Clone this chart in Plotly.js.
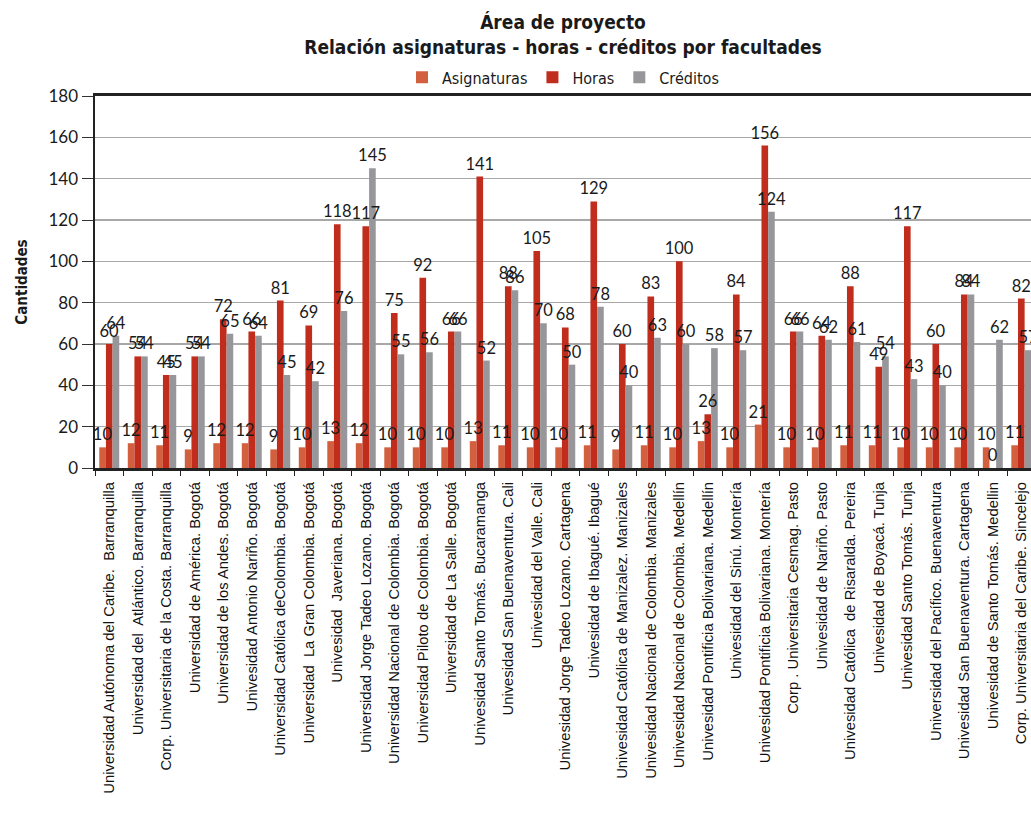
<!DOCTYPE html>
<html>
<head>
<meta charset="utf-8">
<script src="https://cdn.plot.ly/plotly-3.0.1.min.js"></script>
<style>html,body{margin:0;padding:0;background:#fff;}</style>
</head>
<body>
<div id="chart" style="width:1031px;height:820px;"></div>
<script>
const categories = [
  "Universidad Autónoma del Caribe.  Barranquilla",
  "Universidad del  Atlántico. Barranquilla",
  "Corp. Universitaria de la Costa. Barranquilla",
  "Universidad de América. Bogotá",
  "Universidad de los Andes. Bogotá",
  "Univesidad Antonio Nariño. Bogotá",
  "Universidad Católica deColombia. Bogotá",
  "Universidad  La Gran Colombia. Bogotá",
  "Univesidad  Javeriana. Bogotá",
  "Universidad Jorge Tadeo Lozano. Bogotá",
  "Universidad Nacional de Colombia. Bogotá",
  "Universidad Piloto de Colombia. Bogotá",
  "Universidad de La Salle. Bogotá",
  "Univesidad Santo Tomás. Bucaramanga",
  "Univesidad San Buenaventura. Cali",
  "Univesidad del Valle. Cali",
  "Univesidad Jorge Tadeo Lozano. Cartagena",
  "Univesidad de Ibagué. Ibagué",
  "Univesidad Católica de Manizalez. Manizales",
  "Univesidad Nacional de Colombia. Manizales",
  "Univesidad Nacional de Colombia. Medellín",
  "Univesidad Pontificia Bolivariana. Medellín",
  "Univesidad del Sinú. Montería",
  "Univesidad Pontificia Bolivariana. Montería",
  "Corp . Universitaria Cesmag. Pasto",
  "Univesidad de Nariño. Pasto",
  "Univesidad Católica  de Risaralda. Pereira",
  "Univesidad de Boyacá. Tunja",
  "Univesidad Santo Tomás. Tunja",
  "Universidad del Pacífico. Buenaventura",
  "Univesidad San Buenaventura. Cartagena",
  "Univesidad de Santo Tomás. Medellin",
  "Corp. Universitaria del Caribe. Sincelejo"
];
const asignaturas = [10,12,11,9,12,12,9,10,13,12,10,10,10,13,11,10,10,11,9,11,10,13,10,21,10,10,11,11,10,10,10,10,11];
const horas       = [60,54,45,54,72,66,81,69,118,117,75,92,66,141,88,105,68,129,60,83,100,26,84,156,66,64,88,49,117,60,84,0,82];
const creditos    = [64,54,45,54,65,64,45,42,76,145,55,56,66,52,86,70,50,78,40,63,60,58,57,124,66,62,61,54,43,40,84,62,57];
const yTicks = [0,20,40,60,80,100,120,140,160,180];

const numFont = {family: "Lato, 'Open Sans', sans-serif", size: 16.5, color: "#1a1a1a"};
const condFont = "'Liberation Sans Narrow', 'DejaVu Sans Condensed', 'Noto Sans', sans-serif";

const series = [
  {name: "Asignaturas", vals: asignaturas, color: "#D2603F", grp: "a"},
  {name: "Horas", vals: horas, color: "#C02D1D", grp: "b"},
  {name: "Créditos", vals: creditos, color: "#97979B", grp: "c"}
];
const data = [];
series.forEach(s => data.push({
  type: "bar", name: s.name, x: categories, y: s.vals, offsetgroup: s.grp,
  marker: {color: s.color}, hoverinfo: "x+y+name"
}));
// transparent overlay traces carrying the value labels, drawn above all bars
series.forEach(s => data.push({
  type: "bar", name: s.name, x: categories, y: s.vals, offsetgroup: s.grp,
  marker: {color: "rgba(0,0,0,0)"}, showlegend: false,
  text: s.vals.map(String), textposition: "outside",
  textfont: numFont, constraintext: "none", cliponaxis: false,
  hoverinfo: "skip"
}));

const layout = {
  width: 1031, height: 820,
  margin: {l: 95, r: 0, t: 96, b: 352},
  paper_bgcolor: "#fff", plot_bgcolor: "#fff",
  barmode: "group", bargap: 0.3, bargroupgap: 0,
  title: {
    text: "<b>Área de proyecto</b><br><b>Relación asignaturas - horas - créditos por facultades</b>",
    font: {family: condFont, size: 19, color: "#1a1a1a"},
    xref: "paper", x: 0.5, xanchor: "center",
    yref: "container", y: 0.9646, yanchor: "middle"
  },
  showlegend: true,
  legend: {
    orientation: "h", x: 0.5, xanchor: "center", y: 1.05, yanchor: "middle",
    bgcolor: "rgba(0,0,0,0)",
    font: {family: condFont, size: 16, color: "#1a1a1a"},
    traceorder: "normal", itemwidth: 30
  },
  xaxis: {
    type: "category", range: [-0.5, 32.34],
    tickangle: -90, tickfont: {family: "'Liberation Sans', Arial, sans-serif", size: 14.8, color: "#111"},
    ticklabelstandoff: 5,
    tickson: "boundaries", ticks: "outside", ticklen: 5, tickcolor: "#222", tickwidth: 1,
    showline: true, linecolor: "#222", linewidth: 3, mirror: true,
    showgrid: false, automargin: false
  },
  yaxis: {
    range: [0, 180], tickvals: yTicks, ticktext: yTicks.map(String),
    tickfont: {family: "Lato, 'Open Sans', sans-serif", size: 17, color: "#1a1a1a"},
    ticks: "outside", ticklen: 11, tickcolor: "#333", tickwidth: 1,
    showline: true, linecolor: "#222", linewidth: 2.5,
    showgrid: true, gridcolor: "#A8A8A8", gridwidth: 1.3,
    zeroline: false, automargin: false,
    title: {text: "<b>Cantidades</b>", font: {family: condFont, size: 15, color: "#1a1a1a"}, standoff: 18}
  }
};
Plotly.newPlot("chart", data, layout, {displayModeBar: false, staticPlot: true});
</script>
</body>
</html>
